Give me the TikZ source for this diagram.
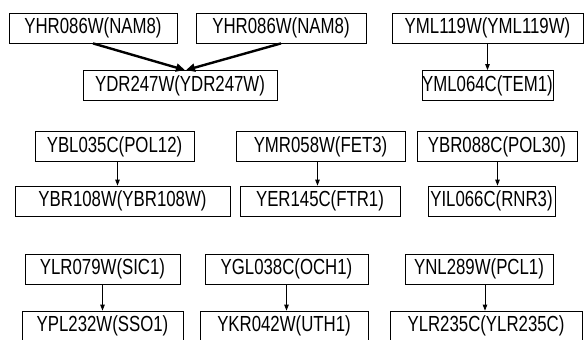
\documentclass[tikz,border=0pt]{standalone}
\usepackage{fontspec}
\usepackage{graphicx}
\setmainfont{Liberation Sans}
\usetikzlibrary{arrows.meta}
\newcommand{\genename}[1]{\scalebox{1}[1.3]{#1}}

\begin{document}
\begin{tikzpicture}[x=1pt,y=-1pt,
    >={Triangle[length=6pt,width=4.5pt]},
    gene/.style={draw,line width=0.8pt,inner sep=0pt,minimum height=30pt,
      font=\fontsize{16.8}{20}\selectfont},
    link/.style={->,line width=0.8pt},
    biglink/.style={-{Triangle[length=9pt,width=8pt]},line width=2.4pt}]
    \useasboundingbox (0,0) rectangle (587,340);
    \clip (0,0) rectangle (587,340);
    % first row
    \node[gene,minimum width=168pt] (nam8a) at (93,28) {\genename{YHR086W(NAM8)}};
    \node[gene,minimum width=170pt] (nam8b) at (281,28) {\genename{YHR086W(NAM8)}};
    \node[gene,minimum width=194pt] (ydr247) at (180,85.5) {\genename{YDR247W(YDR247W)}};
    \node[gene,minimum width=191pt] (yml119) at (487.5,28) {\genename{YML119W(YML119W)}};
    \node[gene,minimum width=131pt] (tem1) at (487.5,85.5) {\genename{YML064C(TEM1)}};
    \draw[biglink] (nam8a.south) -- ([xshift=5pt]ydr247.north);
    \draw[biglink] (nam8b.south) -- ([xshift=6pt]ydr247.north);
    \draw[link] (yml119.south) -- (tem1.north);
    % second row
    \node[gene,minimum width=159pt] (pol12) at (114.5,146.5) {\genename{YBL035C(POL12)}};
    \node[gene,minimum width=215pt] (ybr108) at (122.5,201) {\genename{YBR108W(YBR108W)}};
    \node[gene,minimum width=169pt] (fet3) at (320.5,146.5) {\genename{YMR058W(FET3)}};
    \node[gene,minimum width=160pt] (ftr1) at (320,201) {\genename{YER145C(FTR1)}};
    \node[gene,minimum width=160pt] (pol30) at (497,146.5) {\genename{YBR088C(POL30)}};
    \node[gene,minimum width=127pt] (rnr3) at (491.5,201) {\genename{YIL066C(RNR3)}};
    \draw[link] ([xshift=3pt]pol12.south) -- ([xshift=3pt]pol12.south |- ybr108.north);
    \draw[link] ([xshift=-3pt]fet3.south) -- ([xshift=-3pt]fet3.south |- ftr1.north);
    \draw[link] ([xshift=6pt]rnr3.north |- pol30.south) -- ([xshift=6pt]rnr3.north);
    % third row
    \node[gene,minimum width=155pt] (sic1) at (102.5,269) {\genename{YLR079W(SIC1)}};
    \node[gene,minimum width=161pt] (sso1) at (102.5,326) {\genename{YPL232W(SSO1)}};
    \node[gene,minimum width=163pt] (och1) at (286.5,269) {\genename{YGL038C(OCH1)}};
    \node[gene,minimum width=168pt] (uth1) at (284,326) {\genename{YKR042W(UTH1)}};
    \node[gene,minimum width=148pt] (pcl1) at (479,269) {\genename{YNL289W(PCL1)}};
    \node[gene,minimum width=192pt] (ylr235) at (486,326) {\genename{YLR235C(YLR235C)}};
    \draw[link] (sic1.south) -- (sic1.south |- sso1.north);
    \draw[link] (och1.south) -- (och1.south |- uth1.north);
    \draw[link] ([xshift=6pt]pcl1.south) -- ([xshift=6pt]pcl1.south |- ylr235.north);
\end{tikzpicture}
\end{document}
